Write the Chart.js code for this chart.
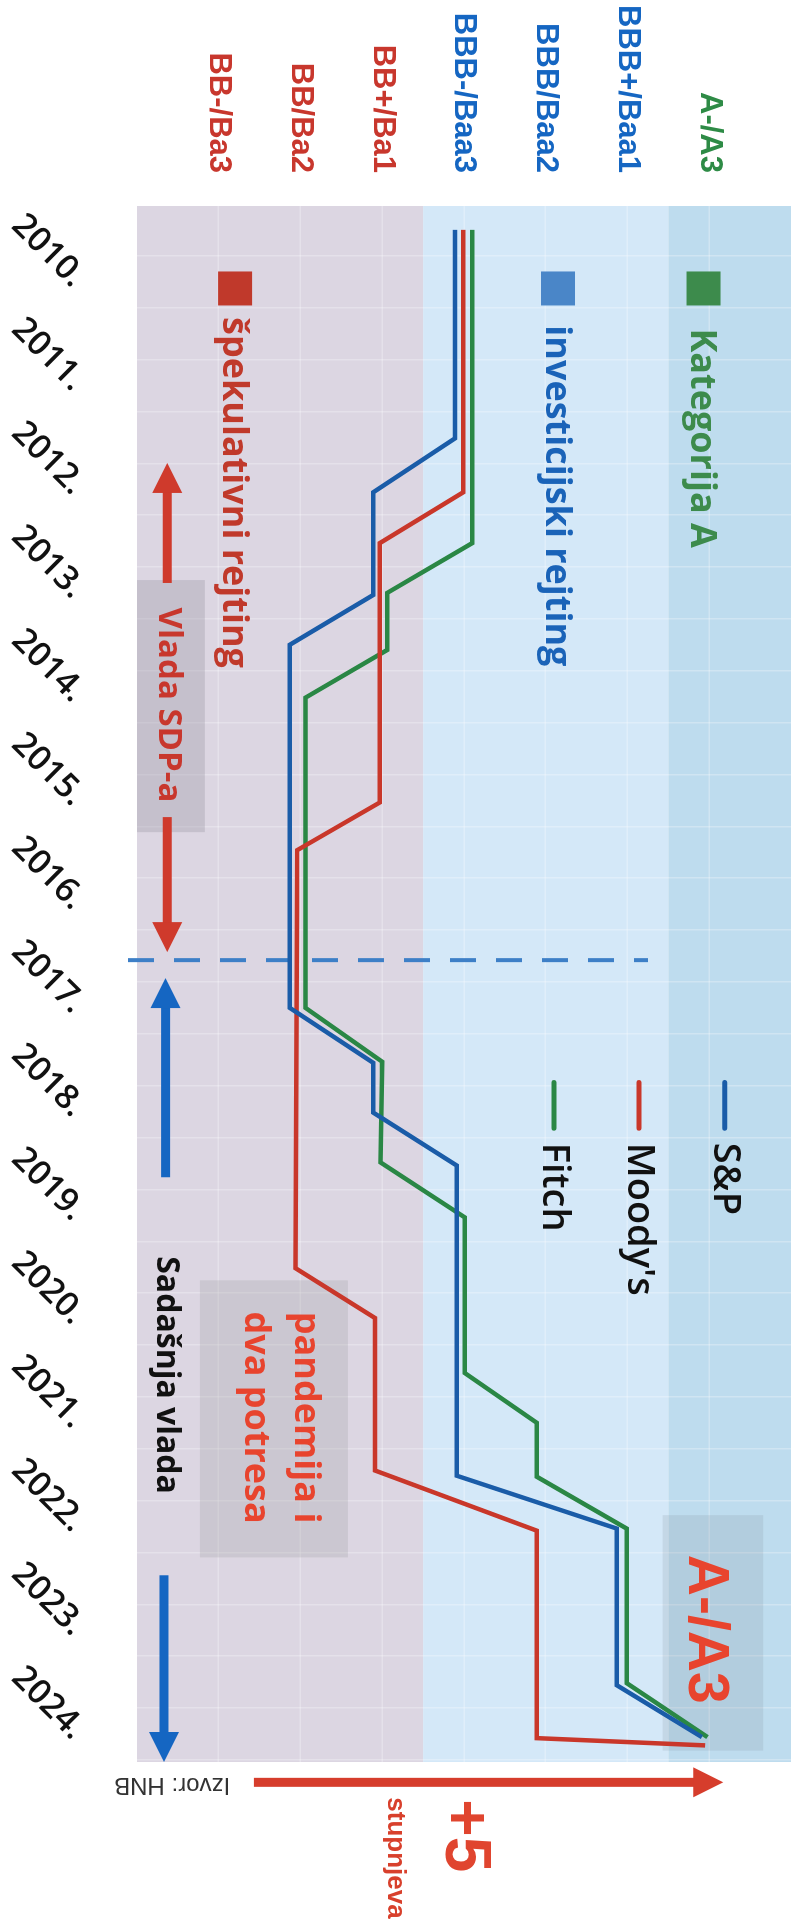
<!DOCTYPE html>
<html><head><meta charset="utf-8">
<script src="https://cdn.jsdelivr.net/npm/chart.js@4.4.1/dist/chart.umd.min.js"></script>
<style>
html,body{margin:0;padding:0;background:#fff;overflow:hidden;width:798px;height:1929px;}
#wrap{position:absolute;left:0;top:0;width:1929px;height:798px;transform-origin:0 0;transform:translate(798px,0) rotate(90deg);}
canvas{display:block}
</style></head><body>
<div id="wrap"><canvas id="c" width="1929" height="798"></canvas></div>
<script>
// ---- data ----
const years = [2010,2011,2012,2013,2014,2015,2016,2017,2018,2019,2020,2021,2022,2023,2024];
const ratingLabels = ['BB-/Ba3','BB/Ba2','BB+/Ba1','BBB-/Baa3','BBB/Baa2','BBB+/Baa1','A-/A3'];
const ratingColors = ['#c8372d','#c8372d','#c8372d','#1566c2','#1566c2','#1566c2','#2e8b46'];
const seriesNames = ['S&P', "Moody's", 'Fitch'];
const seriesColors = ['#1a5ca8', '#c9372a', '#2a8745'];
const spTime   = [2010.00,2012.01,2012.53,2013.52,2014.00,2017.50,2018.03,2018.51,2019.02,2022.01,2022.52,2024.03,2024.53];
const spRating = [3.89,3.89,2.89,2.89,1.87,1.87,2.89,2.89,3.91,3.91,5.87,5.87,6.91];
const moodysTime   = [2010.00,2012.53,2013.02,2015.52,2015.98,2020.01,2020.49,2021.96,2022.54,2024.54,2024.61];
const moodysRating = [3.99,3.99,2.97,2.97,1.96,1.94,2.91,2.91,4.89,4.89,6.95];
const fitchTime   = [2010.00,2013.02,2013.50,2014.05,2014.51,2017.50,2018.02,2018.99,2019.52,2021.02,2021.50,2022.02,2022.52,2024.01,2024.53];
const fitchRating = [4.10,4.10,3.06,3.06,2.06,2.06,3.00,2.98,4.01,4.01,4.89,4.89,5.99,5.99,6.98];
const govChangeTime = 2017.04;
const govChangeSpan = [-0.11, 6.25];
const bandEdges = [0, 3.5, 6.5, 8];
const bandNames = ['špekulativni rejting', 'investicijski rejting', 'Kategorija A'];
const timeRange = [2009.77, 2024.77];
const ratingRange = [0, 8];

// ---- styles ----
const bandColors = ['#dcd6e2', '#d4e8f8', '#bedcee'];
const OS = '"Open Sans", "Liberation Sans", sans-serif';
const LS = '"Liberation Sans", Arial, sans-serif';

function mkData(ts, vs){ return ts.map((t,i)=>({x:t, y:vs[i]})); }
function noPad(s){ s.paddingTop=0; s.paddingBottom=0; s.paddingLeft=0; s.paddingRight=0; }

const annot = {
  id: 'annot',
  beforeDraw(chart){
    const {ctx, chartArea:a, scales:{y}} = chart;
    ctx.save();
    for (let i=0;i<bandColors.length;i++){
      const p0 = y.getPixelForValue(bandEdges[i]), p1 = y.getPixelForValue(bandEdges[i+1]);
      ctx.fillStyle = bandColors[i];
      ctx.fillRect(a.left, p1, a.right-a.left, p0-p1);
    }
    ctx.restore();
  },
  beforeDatasetsDraw(chart){
    const {ctx, scales:{x,y}} = chart;
    const boxes = [
      {t0:2013.376, t1:2015.806, v0:0, v1:0.83, c:'rgba(150,146,160,0.32)'},
      {t0:2020.127, t1:2022.798, v0:0.77, v1:2.58, c:'rgba(165,165,170,0.30)'},
      {t0:2022.39, t1:2024.66, v0:6.43, v1:7.66, c:'rgba(130,140,150,0.18)'}
    ];
    ctx.save();
    boxes.forEach(b=>{
      const x0=x.getPixelForValue(b.t0), x1=x.getPixelForValue(b.t1);
      const y0=y.getPixelForValue(b.v0), y1=y.getPixelForValue(b.v1);
      ctx.fillStyle=b.c; ctx.fillRect(x0,y1,x1-x0,y0-y1);
    });
    ctx.restore();
  },
  afterDatasetsDraw(chart){
    const {ctx, scales:{x,y}} = chart;
    const X = t => x.getPixelForValue(t), Y = v => y.getPixelForValue(v);
    ctx.save();
    const arrows = [
      {t0:2013.404, t1:2012.247, v0:0.37, v1:0.37, c:'#cf3a2c'},
      {t0:2015.661, t1:2016.963, v0:0.37, v1:0.37, c:'#cf3a2c'},
      {t0:2019.133, t1:2017.213, v0:0.35, v1:0.35, c:'#1566c2'},
      {t0:2022.97, t1:2024.77, v0:0.33, v1:0.33, c:'#1566c2'},
      {t0:2024.966, t1:2024.966, v0:1.43, v1:7.17, c:'#d63d2c'}
    ];
    arrows.forEach(a=>{
      const x0=X(a.t0), y0=Y(a.v0), x1=X(a.t1), y1=Y(a.v1);
      const ang=Math.atan2(y1-y0,x1-x0), hl=30, hw=15, sw=4.5;
      const len=Math.hypot(x1-x0,y1-y0);
      ctx.save(); ctx.translate(x0,y0); ctx.rotate(ang);
      ctx.fillStyle=a.c;
      ctx.fillRect(0,-sw,len-hl+1,sw*2);
      ctx.beginPath(); ctx.moveTo(len,0); ctx.lineTo(len-hl,-hw); ctx.lineTo(len-hl,hw); ctx.closePath(); ctx.fill();
      ctx.restore();
    });
    const texts = [
      {s:'Vlada SDP-a', t:2014.58, v:0.38, c:'#c8372d', f:'bold 33px '+OS, al:'center'},
      {s:'Sadašnja vlada', t:2021.04, v:0.36, c:'#111111', f:'bold 32px '+OS, al:'center'},
      {s:'pandemija i', t:2021.45, v:2.06, c:'#e8442e', f:'bold 36px '+OS, al:'center'},
      {s:'dva potresa', t:2021.45, v:1.45, c:'#e8442e', f:'bold 36px '+OS, al:'center'},
      {s:'A-/A3', t:2023.49, v:6.94, c:'#e8442e', f:'bold 57px '+LS, al:'center'},
      {s:'+5', t:2025.13, v:3.99, c:'#e0452f', f:'bold 64px '+LS, al:'left'},
      {s:'stupnjeva', t:2025.11, v:3.16, c:'#d8402c', f:'bold 26px '+LS, al:'left'},
      {s:'Izvor: HNB', t:2024.99, v:0.43, c:'#333333', f:'24px '+LS, al:'center', rot:Math.PI/2}
    ];
    ctx.textBaseline='middle';
    texts.forEach(o=>{
      ctx.save(); ctx.translate(X(o.t), Y(o.v)); if(o.rot) ctx.rotate(o.rot);
      ctx.font=o.f; ctx.fillStyle=o.c; ctx.textAlign=o.al; ctx.fillText(o.s,0,0); ctx.restore();
    });
    const cat = [
      {i:2, sq:'#3d8b4c', c:'#3d8b4c', v:6.93, t:2010.95},
      {i:1, sq:'#4a86c8', c:'#1a63b8', v:5.15, t:2010.92},
      {i:0, sq:'#c0392b', c:'#c0392b', v:1.20, t:2010.84}
    ];
    cat.forEach(o=>{
      const cx=X(2010.565), cy=Y(o.v);
      ctx.fillStyle=o.sq; ctx.fillRect(cx-17, cy-17, 34, 34);
      ctx.font='bold 36px '+OS; ctx.fillStyle=o.c; ctx.textAlign='left';
      ctx.fillText(bandNames[o.i], X(o.t), cy+2);
    });
    const sv = [7.19, 6.14, 5.10];
    chart.data.datasets.slice(0,3).forEach((d,i)=>{
      const yy=Y(sv[i]);
      ctx.strokeStyle=d.borderColor; ctx.lineWidth=5; ctx.lineCap='round';
      ctx.beginPath(); ctx.moveTo(X(2018.22),yy); ctx.lineTo(X(2018.66),yy); ctx.stroke();
      ctx.font='600 38px '+OS; ctx.fillStyle='#111'; ctx.textAlign='left';
      ctx.fillText(d.label, X(2018.80), yy);
    });
    ctx.restore();
  }
};

const datasets = [
  {label:seriesNames[0], data:mkData(spTime, spRating), borderColor:seriesColors[0]},
  {label:seriesNames[1], data:mkData(moodysTime, moodysRating), borderColor:seriesColors[1]},
  {label:seriesNames[2], data:mkData(fitchTime, fitchRating), borderColor:seriesColors[2]},
].map(d=>Object.assign(d,{borderWidth:4.5, pointRadius:0, tension:0, fill:false, borderJoinStyle:'miter'}));
datasets.push({label:'', data:[{x:govChangeTime,y:govChangeSpan[0]},{x:govChangeTime,y:govChangeSpan[1]}],
  borderColor:'#3d7fc7', borderWidth:4, borderDash:[26,20], pointRadius:0, clip:false});

new Chart(document.getElementById('c'), {
  type:'line',
  data:{datasets},
  options:{
    responsive:false, maintainAspectRatio:false, animation:false, devicePixelRatio:1,
    layout:{padding:{left:0, right:167, top:7, bottom:0}},
    plugins:{legend:{display:false}, tooltip:{enabled:false}},
    scales:{
      x:{type:'linear', position:'bottom', min:timeRange[0], max:timeRange[1],
        afterBuildTicks:s=>{ s.ticks = years.map(yr=>({value:yr+0.5})); },
        afterFit:s=>{ s.height=137; noPad(s); },
        ticks:{autoSkip:false, minRotation:45, maxRotation:45, padding:44, color:'#111',
          font:{family:'"Open Sans"', size:34, weight:'600'}, callback:v=>Math.floor(v)+'.'},
        grid:{display:false, drawTicks:false}, border:{display:false}},
      xg:{type:'linear', position:'top', min:timeRange[0], max:timeRange[1],
        afterBuildTicks:s=>{ s.ticks = years.flatMap(yr=>[{value:yr+0.25},{value:yr+0.75}]); },
        afterFit:s=>{ s.height=0; noPad(s); },
        ticks:{display:false}, grid:{color:'rgba(255,255,255,0.28)', lineWidth:1.5, drawTicks:false}, border:{display:false}},
      y:{type:'linear', min:ratingRange[0], max:ratingRange[1],
        afterBuildTicks:s=>{ s.ticks = ratingLabels.map((_,i)=>({value:i+1})); },
        afterFit:s=>{ s.width=206; noPad(s); },
        ticks:{padding:33, font:{family:'"Liberation Sans"', size:31, weight:'bold'},
          color:c=>ratingColors[c.index], callback:v=>ratingLabels[v-1]},
        grid:{color:'rgba(255,255,255,0.28)', lineWidth:1.5, drawTicks:false}, border:{display:false}}
    }
  },
  plugins:[annot]
});
</script></body></html>
